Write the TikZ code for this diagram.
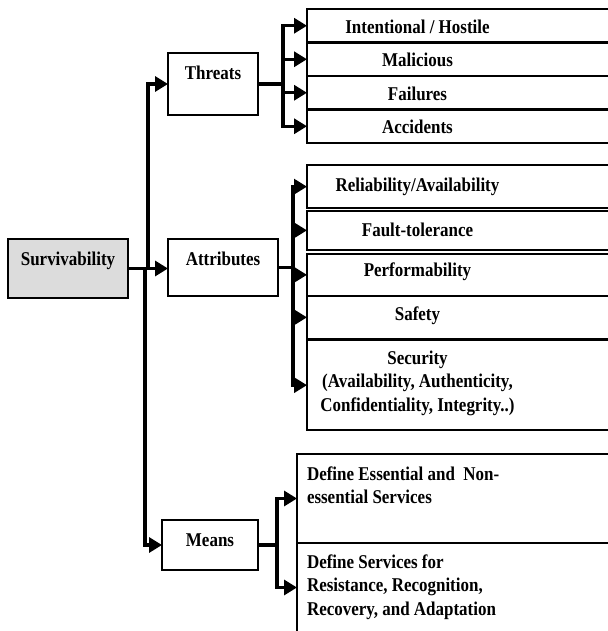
\documentclass[tikz,border=0pt]{standalone}
\usepackage{fontspec}
\setmainfont[FakeStretch=0.87]{Liberation Serif}
\usepackage{tikz}
\usetikzlibrary{arrows.meta, positioning}
\definecolor{survgray}{RGB}{220,220,220}
\newcommand{\leaftext}[1]{\parbox[t]{221pt}{\centering #1}\hspace*{89pt}}
\newcommand{\meanstext}[1]{\parbox[t]{300pt}{\raggedright #1}}

\begin{document}
\begin{tikzpicture}[x=1pt, y=-1pt,
        every node/.style={font=\fontsize{19.5}{23.5}\selectfont\bfseries, inner xsep=0pt, inner ysep=0pt, outer sep=0pt},
        root/.style={draw, line width=2.2pt, fill=survgray, anchor=north west, minimum width=120pt},
        mid/.style={draw, line width=2.2pt, anchor=north west},
        leaf/.style={draw, line width=2.2pt, anchor=north west},
        meansleaf/.style={draw, line width=2.2pt, anchor=north west, inner xsep=10pt},
        arr/.style={-{Triangle[length=13pt, width=15pt]}, line width=3.2pt}
    ]
        \useasboundingbox (0,0) rectangle (607,631);

        \node[root, text height=26pt, text depth=33pt] (surv) at (8,239) {Survivability};

        \node[mid, minimum width=90pt, text height=26.3pt, text depth=35.7pt] (threats) at (168,53) {Threats};
        \node[mid, minimum width=110pt, text height=26pt, text depth=30.7pt] (attr) at (168,239) {Attributes};
        \node[mid, minimum width=96pt, text height=26pt, text depth=24pt] (means) at (162,520) {Means};

        % threats
        \node[leaf, text height=24.5pt, text depth=9pt] (t1) at (307,9) {\leaftext{Intentional / Hostile}};
        \node[leaf, text height=24.5pt, text depth=9pt, below=0pt of t1] (t2) {\leaftext{Malicious}};
        \node[leaf, text height=24.5pt, text depth=9pt, below=0pt of t2] (t3) {\leaftext{Failures}};
        \node[leaf, text height=24.5pt, text depth=9pt, below=0pt of t3] (t4) {\leaftext{Accidents}};

        % attributes
        \node[leaf, text height=26.7pt, text depth=16.6pt] (a1) at (307,165) {\leaftext{Reliability/Availability}};
        \node[leaf, text height=25.3pt, text depth=14pt, below=2.4pt of a1] (a2) {\leaftext{Fault-tolerance}};
        \node[leaf, text height=22.7pt, text depth=19pt, below=4pt of a2] (a3) {\leaftext{Performability}};
        \node[leaf, text height=24.3pt, text depth=19pt, below=0pt of a3] (a4) {\leaftext{Safety}};
        \node[leaf, text height=23.7pt, text depth=66pt, below=1.3pt of a4] (a5) {\leaftext{Security\\(Availability, Authenticity,\\Confidentiality, Integrity..)}};

        % means
        \node[meansleaf, text height=26pt, text depth=63pt] (m1) at (297,454) {\meanstext{Define Essential and\ \ Non-\\essential Services}};
        \node[meansleaf, text height=25pt, text depth=64pt, below=0pt of m1] (m2) {\meanstext{Define Services for\\Resistance, Recognition,\\Recovery, and Adaptation}};

        \draw[arr] (surv.east) -- ++(20,0) |- (threats.west);
        \draw[arr] (surv.east) -- (surv.east -| attr.west);
        \draw[arr] (surv.east) -- ++(17,0) |- (means.west);

        \draw[arr] (threats.east) -- ++(25,0) |- (t1.west);
        \draw[arr] (threats.east) -- ++(25,0) |- (t2.west);
        \draw[arr] (threats.east) -- ++(25,0) |- (t3.west);
        \draw[arr] (threats.east) -- ++(25,0) |- (t4.west);

        \draw[arr] (attr.east) -- ++(15,0) |- (a1.west);
        \draw[arr] (attr.east) -- ++(15,0) |- (a2.west);
        \draw[arr] (attr.east) -- ++(15,0) |- (a3.west);
        \draw[arr] (attr.east) -- ++(15,0) |- (a4.west);
        \draw[arr] (attr.east) -- ++(15,0) |- (a5.west);

        \draw[arr] (means.east) -- ++(19,0) |- (m1.west);
        \draw[arr] (means.east) -- ++(19,0) |- (m2.west);
    \end{tikzpicture}
\end{document}
